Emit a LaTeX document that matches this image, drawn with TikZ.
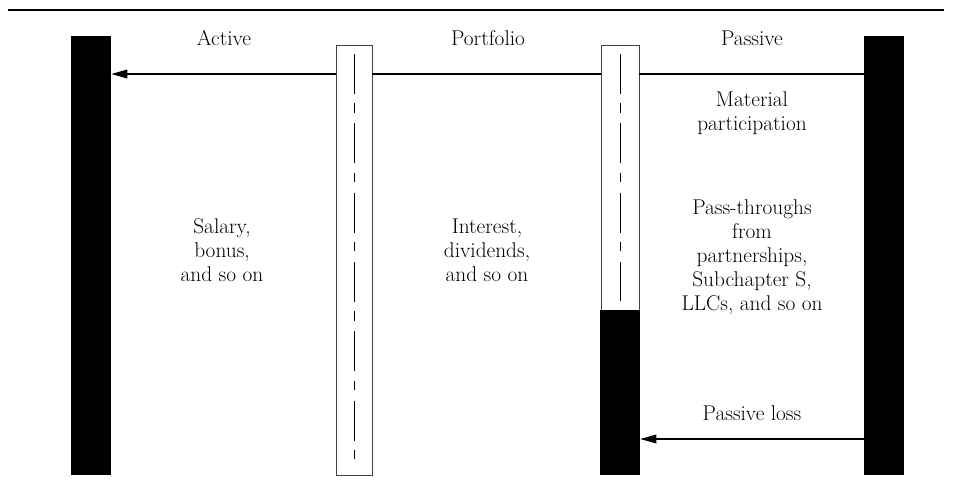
\documentclass[tikz,border=0pt]{standalone}
\usetikzlibrary{arrows.meta}
\tikzset{
  solidbar/.style={fill=black, inner sep=0pt, minimum width=30pt},
  hollowbar/.style={fill=white, draw=black!75, line width=0.6pt, inner sep=0pt},
  midline/.style={line width=0.6pt, dash pattern=on 30pt off 7pt on 7pt off 8pt},
  flow/.style={line width=0.9pt},
  tip/.style={-{Triangle[length=12pt,width=6.5pt]}},
  txt/.style={font=\fontsize{16}{18}\selectfont, align=center, anchor=base}
}
\begin{document}
\begin{tikzpicture}[x=0.75pt, y=-0.75pt]
  \useasboundingbox (0,0) rectangle (958,490);
  \draw[line width=1.3pt] (8,10) -- (944,10);

  \node[solidbar, minimum height=329.25pt] (active) at (91,255.5) {};
  \node[solidbar, minimum height=329.25pt] (passive) at (884,255.5) {};
  \node[hollowbar, minimum width=27pt, minimum height=322.5pt] (portL) at (354,260) {};
  \node[hollowbar, minimum width=28.5pt, minimum height=198.75pt] (portR) at (620,177.5) {};
  \node[solidbar, minimum height=123.75pt] (loss) at (620,392.5) {};

  \coordinate (level1) at (0,74);
  \coordinate (level2) at (0,439);

  \draw[flow] (passive.west |- level1) -- (portR.east |- level1);
  \draw[flow] (portR.west |- level1) -- (portL.east |- level1);
  \draw[flow, tip] (portL.west |- level1) -- (active.east |- level1);
  \draw[flow, tip] (passive.west |- level2) -- (loss.east |- level2);

  \draw[midline] ([yshift=-7pt]portL.north) -- ([yshift=7pt]portL.south);
  \draw[midline] ([yshift=-7pt]portR.north) -- ([yshift=7pt]portR.south);

  \node[txt] (tActive) at (224,45) {Active};
  \node[txt] (tPortfolio) at (488,45) {Portfolio};
  \node[txt] (tPassive) at (752,45) {Passive};
  \node[txt] (tMaterial) at (752,130) {Material\\participation};
  \node[txt] (tSalary) at (222,281) {Salary,\\bonus,\\and so on};
  \node[txt] (tInterest) at (487,281) {Interest,\\dividends,\\and so on};
  \node[txt] (tPass) at (752,310) {Pass-throughs\\from\\partnerships,\\Subchapter S,\\LLCs, and so on};
  \node[txt] (tLoss) at (752,420) {Passive loss};
\end{tikzpicture}
\end{document}
